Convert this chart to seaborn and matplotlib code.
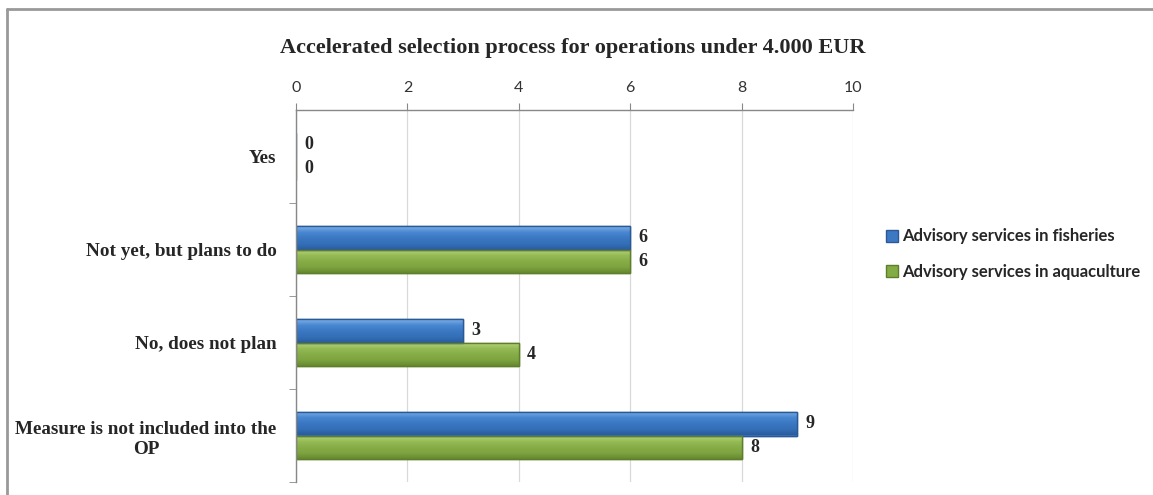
import pandas as pd
import numpy as np
import matplotlib
matplotlib.use('Agg')
import matplotlib.pyplot as plt
import seaborn as sns
from matplotlib.lines import Line2D
from matplotlib.colors import LinearSegmentedColormap

sns.set_style('white')

# 데이터
categories = ['Yes', 'Not yet, but plans to do', 'No, does not plan',
              'Measure is not included into the\nOP']
fisheries = [0, 6, 3, 9]
aquaculture = [0, 6, 4, 8]
series = ['Advisory services in fisheries', 'Advisory services in aquaculture']
colors = ['#3D78C3', '#84AC45']
edges = ['#2A5A95', '#5E7E2C']
# 막대 그라데이션 (위 -> 아래)
gradients = [['#7FB0E8', '#4A88D2', '#3B77C2', '#3470B8', '#2A5C9C'],
             ['#BCD77E', '#96BC57', '#86AD47', '#7EA440', '#66892F']]

df = pd.DataFrame({
    'category': categories * 2,
    'value': fisheries + aquaculture,
    'series': [series[0]] * len(categories) + [series[1]] * len(categories),
})

serif = ['Liberation Serif', 'DejaVu Serif']
sans = ['Lato', 'DejaVu Sans']

fig = plt.figure(figsize=(11.53, 4.95), dpi=100)
ax = fig.add_axes([296 / 1153, 1 - 482 / 495, (853 - 296) / 1153, (482 - 110) / 495])

sns.barplot(data=df, y='category', x='value', hue='series', orient='h',
            palette=colors, width=0.5, ax=ax, legend=False, saturation=1)

grad = np.linspace(0, 1, 64).reshape(-1, 1)
for cont, ec, gc in zip(ax.containers, edges, gradients):
    cmap = LinearSegmentedColormap.from_list('g', gc)
    for p in cont:
        p.set_edgecolor(ec)
        p.set_linewidth(1.0)
        x0, y0 = p.get_x(), p.get_y()
        w, h = p.get_width(), p.get_height()
        if w > 0:
            im = ax.imshow(grad, cmap=cmap, aspect='auto', extent=[x0, x0 + w, y0 + h, y0],
                           zorder=p.get_zorder() + 0.1, interpolation='bilinear')
            im.set_clip_path(p)
            ax.add_patch(plt.Rectangle((x0, y0), w, h, fill=False, edgecolor=ec,
                                       linewidth=1.0, zorder=p.get_zorder() + 0.2))
    ax.bar_label(cont, padding=6, fontsize=13, fontweight='bold', family=serif)

ax.set_xlim(0, 10)
ax.set_ylim(3.5, -0.5)
ax.set_xticks(range(0, 11, 2))
ax.xaxis.tick_top()
ax.tick_params(axis='x', length=5, color='#888888', labelsize=11.5, labelcolor='#333333', pad=6)
for t in ax.get_xticklabels():
    t.set_family(sans)
ax.grid(axis='x', color='#D9D9D9', linewidth=0.9)
ax.set_axisbelow(True)

ax.set_yticks(range(len(categories)))
ax.set_yticklabels(categories, fontsize=13.8, fontweight='bold', family=serif,
                   multialignment='center', linespacing=1.3)
ax.set_yticks([0.5, 1.5, 2.5, 3.5], minor=True)
ax.tick_params(axis='y', which='major', length=0, pad=14)
ax.tick_params(axis='y', which='minor', length=5, color='#888888', left=True)
ax.set_xlabel('')
ax.set_ylabel('')

for s in ['right', 'bottom']:
    ax.spines[s].set_visible(False)
for s in ['top', 'left']:
    ax.spines[s].set_color('#888888')
    ax.spines[s].set_linewidth(1.0)

fig.text(573 / 1153, 1 - 48 / 495, 'Accelerated selection process for operations under 4.000 EUR',
         ha='center', va='center', fontsize=16, fontweight='bold', family=serif)

handles = [Line2D([], [], marker='s', linestyle='', markersize=8,
                  markerfacecolor=c, markeredgecolor=e) for c, e in zip(colors, edges)]
leg = fig.legend(handles, series, loc='center left',
                 bbox_to_anchor=(870 / 1153, 1 - 254 / 495), frameon=False,
                 handlelength=0.8, handletextpad=0.2, labelspacing=1.15,
                 prop={'family': sans, 'weight': 'bold', 'size': 12})

# 바깥 테두리
fig.add_artist(Line2D([7 / 1153, 7 / 1153], [0, 1 - 9 / 495], color='#999999', lw=2,
                      transform=fig.transFigure))
fig.add_artist(Line2D([7 / 1153, 1], [1 - 9 / 495, 1 - 9 / 495], color='#999999', lw=2,
                      transform=fig.transFigure))

fig.savefig('out.png', dpi=100)
